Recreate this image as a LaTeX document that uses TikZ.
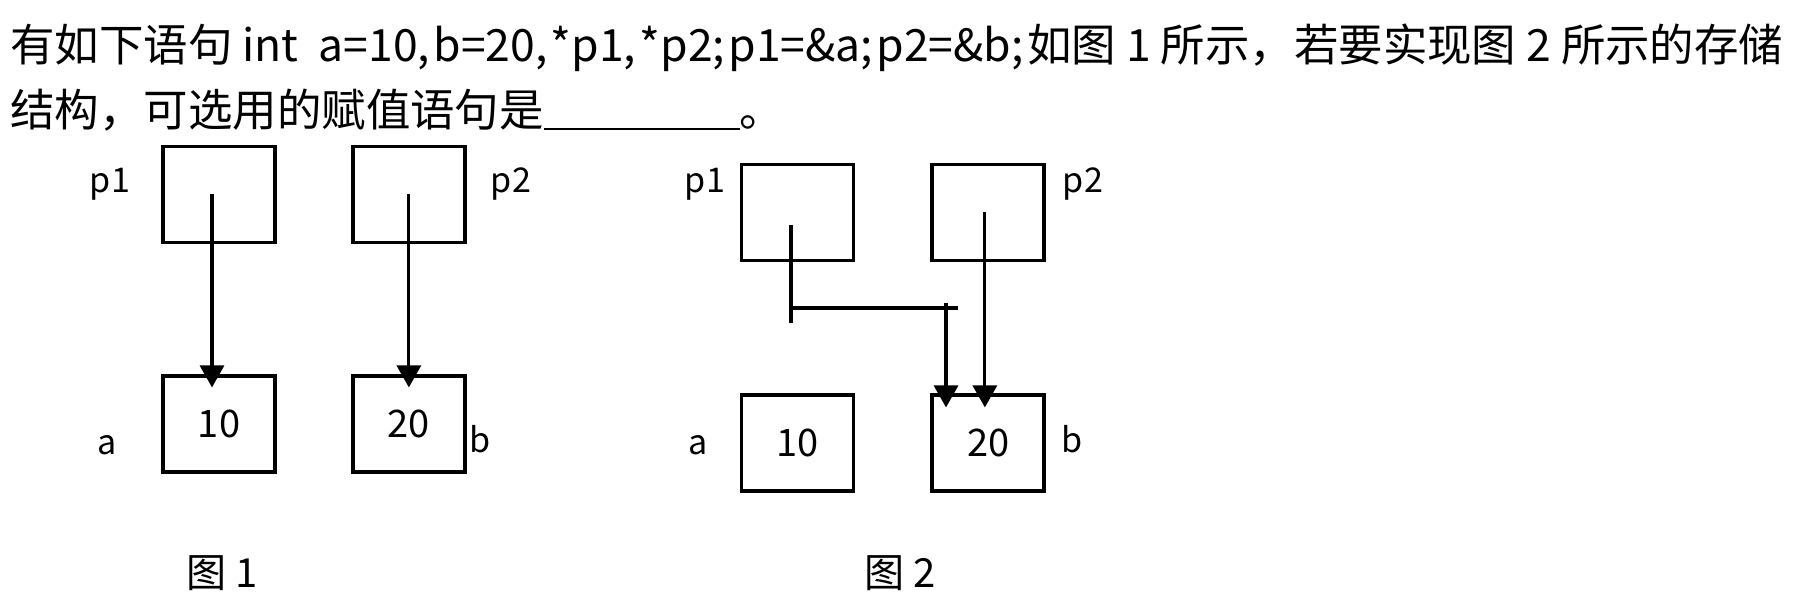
\documentclass[tikz,border=0pt]{standalone}
\usepackage{fontspec}
\setmainfont{Noto Sans CJK SC}
\usetikzlibrary{arrows.meta,positioning}
\definecolor{memInk}{HTML}{000000}
\newcommand{\qsize}{\fontsize{25.3pt}{30pt}\selectfont}
\newcommand{\capsize}{\fontsize{22.8pt}{26pt}\selectfont}
\newcommand{\valsize}{\fontsize{21.6pt}{25pt}\selectfont}
\newcommand{\lblsize}{\fontsize{19.4pt}{23pt}\selectfont}
\newcommand{\gap}{\kern2pt}
\tikzset{
  every picture/.style={text=memInk},
  mem text/.style={inner sep=0pt, anchor=base west, font=\qsize},
  mem box/.style={draw=memInk, line width=2.2pt, minimum width=2.24cm,
    minimum height=1.92cm, inner sep=0pt, font=\valsize},
  mem label/.style={inner sep=0pt, anchor=base, font=\lblsize},
  mem caption/.style={inner sep=0pt, anchor=base, font=\capsize},
  mem arrow/.style={-{Triangle[length=4.4mm,width=4.8mm]},
    draw=memInk, line width=1.8pt},
  mem link/.style={draw=memInk, line width=1.8pt}
}

\begin{document}
\begin{tikzpicture}[x=0.2mm,y=-0.2mm]
  \useasboundingbox (0,0) rectangle (1808,606);
  \node[mem text] (line1) at (10,62) {有如下语句 int\ \ a=10,\gap b=20,\gap*p1,\gap*p2;\gap p1=\&a;\gap p2=\&b;\gap 如图 1 所示，若要实现图 2 所示的存储};
  \node[mem text] (line2) at (10,127) {结构，可选用的赋值语句是\rule[-0.06cm]{3.92cm}{0.04cm}。};
  % figure 1
  \node[mem box] (p1-1) at (219,194.5) {};
  \node[mem box, right=1.48cm of p1-1] (p2-1) {};
  \node[mem box, below=2.6cm of p1-1] (a-1) {10};
  \node[mem box, below=2.6cm of p2-1] (b-1) {20};
  \node[mem label] (lp1-1) at (110,193) {p1};
  \node[mem label] (lp2-1) at (511,193) {p2};
  \node[mem label] (la-1) at (107,455) {a};
  \node[mem label] (lb-1) at (480,453) {b};
  \draw[mem arrow] ([xshift=-0.14cm]p1-1.center) -- ([xshift=-0.14cm,yshift=-0.26cm]a-1.north);
  \draw[mem arrow] (p2-1.center) -- ([yshift=-0.26cm]b-1.north);
  \node[mem caption] (cap1) at (222,587) {图 1};
  % figure 2
  \node[mem box] (p1-2) at (797.5,212.5) {};
  \node[mem box, right=1.5cm of p1-2] (p2-2) {};
  \node[mem box, below=2.62cm of p1-2] (a-2) {10};
  \node[mem box, below=2.62cm of p2-2] (b-2) {20};
  \node[mem label] (lp1-2) at (705,193) {p1};
  \node[mem label] (lp2-2) at (1083,193) {p2};
  \node[mem label] (la-2) at (698,455) {a};
  \node[mem label] (lb-2) at (1072,453) {b};
  \coordinate (tail) at (791,323);
  \coordinate (bend) at (791,308);
  \coordinate (bendEnd) at (958,308);
  \coordinate (dropTop) at (946,303);
  \coordinate (tip) at ([yshift=-0.28cm]b-2.north);
  \draw[mem link] ([shift={(-6.5,12.5)}]p1-2.center) -- (tail);
  \draw[mem link] (bend) -- (bendEnd);
  \draw[mem arrow] (dropTop) -- (dropTop |- tip);
  \draw[mem arrow] ([xshift=-0.07cm]p2-2.center) -- ([xshift=-0.07cm,yshift=-0.28cm]b-2.north);
  \node[mem caption] (cap2) at (900,587) {图 2};
\end{tikzpicture}
\end{document}
